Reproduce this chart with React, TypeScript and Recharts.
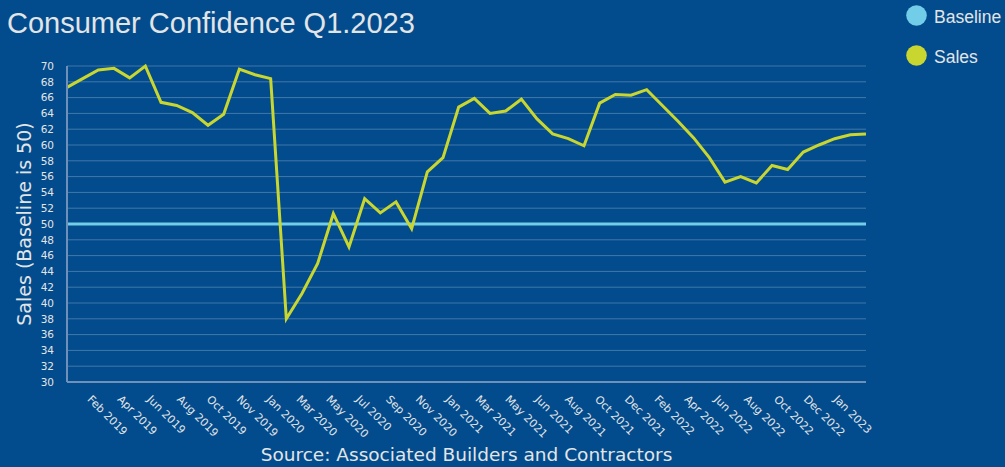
import { LineChart, Line, XAxis, YAxis, CartesianGrid, ReferenceLine } from 'recharts';

// Monthly sales confidence index (index 0 = Jan 2019).
const sales = [
  67.3, 68.4, 69.5, 69.7, 68.5, 70.0, 65.4, 65.0, 64.1, 62.5,
  63.9, 69.6, 68.9, 68.4, 38.0, 41.2, 45.0, 51.3, 47.1, 53.2,
  51.4, 52.8, 49.4, 56.6, 58.4, 64.8, 65.9, 64.0, 64.3, 65.8,
  63.3, 61.4, 60.8, 59.9, 65.3, 66.4, 66.3, 67.0, 65.0, 63.0,
  60.9, 58.4, 55.3, 56.0, 55.2, 57.4, 56.9, 59.1, 60.0, 60.8,
  61.3, 61.4,
];

const BASELINE = 50;

// Time-axis ticks, in months since the first reading.
const tickPos = [
  1.26, 3.17, 5.07, 6.98, 8.88, 10.79, 12.69, 14.6, 16.5, 18.4,
  20.31, 22.22, 24.12, 26.03, 27.93, 29.84, 31.74, 33.65, 35.55, 37.46,
  39.36, 41.27, 43.17, 45.08, 46.98, 48.89,
];
const tickLabels = [
  'Feb 2019', 'Apr 2019', 'Jun 2019', 'Aug 2019', 'Oct 2019', 'Nov 2019',
  'Jan 2020', 'Mar 2020', 'May 2020', 'Jul 2020', 'Sep 2020', 'Nov 2020',
  'Jan 2021', 'Mar 2021', 'May 2021', 'Jun 2021', 'Aug 2021', 'Oct 2021',
  'Dec 2021', 'Feb 2022', 'Apr 2022', 'Jun 2022', 'Aug 2022', 'Oct 2022',
  'Dec 2022', 'Jan 2023',
];
const yTicks = [30, 32, 34, 36, 38, 40, 42, 44, 46, 48, 50, 52, 54, 56, 58, 60, 62, 64, 66, 68, 70];

const legendItems = [
  { name: 'Baseline', color: '#72cde8' },
  { name: 'Sales', color: '#c8d62f' },
];

const BG = '#024b8d';
const TEXT = '#e2e5e6';
const SANS = '"DejaVu Sans", sans-serif';

function XTick({ x, y, payload, index }: any) {
  const i = index ?? tickPos.indexOf(payload.value);
  return (
    <text
      transform={`translate(${x},${y}) rotate(45)`}
      fontSize={11}
      fontFamily={SANS}
      fill={TEXT}
      textAnchor="start"
    >
      {tickLabels[i]}
    </text>
  );
}

export default function App() {
  const data = sales.map((v, i) => ({ m: i, sales: v }));

  return (
    <div style={{ position: 'absolute', left: 0, top: 0, width: 1005, height: 467, background: BG, overflow: 'hidden' }}>
      <LineChart width={1005} height={467} data={data} margin={{ top: 66, right: 139, bottom: 0, left: 0 }}>
        <CartesianGrid vertical={false} stroke="rgba(255,255,255,0.25)" />
        <XAxis
          dataKey="m"
          type="number"
          domain={[0, sales.length - 1]}
          ticks={tickPos}
          interval={0}
          height={85}
          tickLine={false}
          tickSize={0}
          tickMargin={18}
          axisLine={{ stroke: '#6f90b8', strokeWidth: 2 }}
          tick={<XTick />}
          label={{
            value: 'Source: Associated Builders and Contractors',
            position: 'insideBottom',
            offset: 6,
            fill: TEXT,
            fontSize: 18.5,
            fontFamily: SANS,
          }}
        />
        <YAxis
          type="number"
          domain={[30, 70]}
          ticks={yTicks}
          interval={0}
          width={67}
          tickLine={false}
          tickSize={0}
          tickMargin={13}
          axisLine={{ stroke: '#6f90b8', strokeWidth: 2 }}
          tick={{ fontSize: 10.5, fill: TEXT, fontFamily: SANS }}
          label={{
            value: 'Sales (Baseline is 50)',
            angle: -90,
            position: 'insideLeft',
            offset: 24,
            fill: TEXT,
            fontSize: 19,
            fontFamily: SANS,
            style: { textAnchor: 'middle' },
          }}
        />
        <ReferenceLine y={BASELINE} stroke="#72cde8" strokeWidth={3} />
        <Line
          type="linear"
          dataKey="sales"
          stroke="#c8d62f"
          strokeWidth={3}
          dot={false}
          isAnimationActive={false}
        />
      </LineChart>

      <svg width={1005} height={467} style={{ position: 'absolute', left: 0, top: 0, pointerEvents: 'none' }}>
        <text x={7} y={33} fontSize={29} fontFamily='"Liberation Sans", Arial, sans-serif' fill={TEXT}>
          Consumer Confidence Q1.2023
        </text>
        {legendItems.map((it, i) => (
          <g key={it.name}>
            <circle cx={916.5} cy={15.5 + i * 40} r={10.3} fill={it.color} />
            <text
              x={934}
              y={22.5 + i * 40}
              fontSize={17.5}
              fontFamily='"Liberation Sans", Arial, sans-serif'
              fill={TEXT}
            >
              {it.name}
            </text>
          </g>
        ))}
      </svg>
    </div>
  );
}
